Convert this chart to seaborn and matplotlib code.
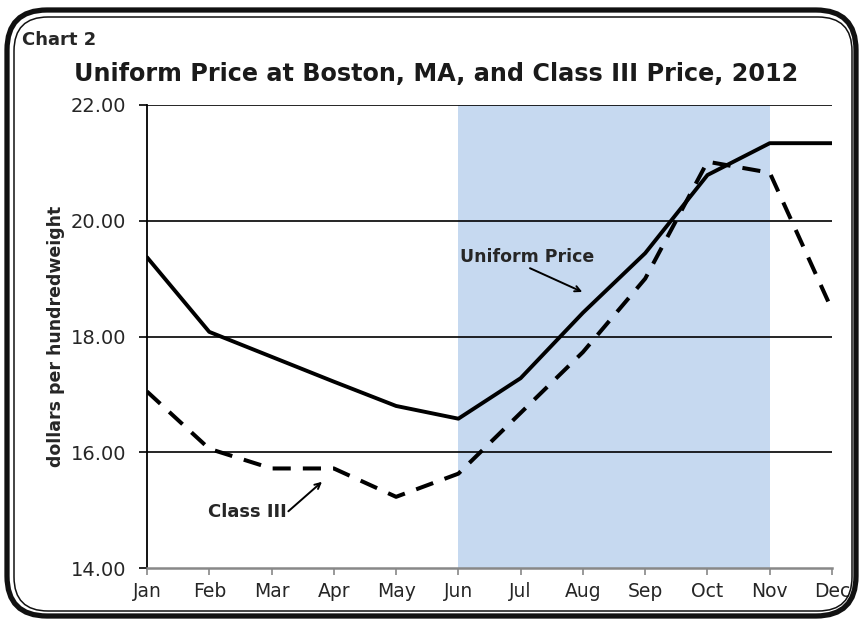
import pandas as pd
import matplotlib.pyplot as plt
import seaborn as sns
from matplotlib.patches import FancyBboxPatch

months = ['Jan', 'Feb', 'Mar', 'Apr', 'May', 'Jun', 'Jul', 'Aug', 'Sep', 'Oct', 'Nov', 'Dec']
uniform_price = [19.37, 18.08, 17.65, 17.22, 16.80, 16.58, 17.28, 18.41, 19.44, 20.79, 21.34, 21.34]
class_iii = [17.05, 16.06, 15.72, 15.72, 15.23, 15.63, 16.68, 17.73, 19.00, 21.02, 20.83, 18.46]
y_ticks = [14.0, 16.0, 18.0, 20.0, 22.0]
shade_from, shade_to = 'Jun', 'Nov'

df = pd.DataFrame({'month': months, 'pos': range(len(months)),
                   'Uniform Price': uniform_price, 'Class III': class_iii})

sns.set_style('white')
plt.rcParams['font.family'] = ['DejaVu Sans']

fig = plt.figure(figsize=(8.59, 6.22), dpi=100)
ax = fig.add_axes([0.1711, 0.0868, 0.7975, 0.7444])

ax.axvspan(months.index(shade_from), months.index(shade_to), color='#c6d9f0', zorder=0, lw=0)
for t in y_ticks[1:]:
    ax.axhline(t, color='black', lw=1.2, zorder=1)

sns.lineplot(data=df, x='pos', y='Uniform Price', color='black', lw=2.8, ax=ax, zorder=3)
sns.lineplot(data=df, x='pos', y='Class III', color='black', lw=2.9, ax=ax, zorder=3,
             dashes=False, linestyle=(0, (4.5, 3)))

ax.set_xlim(0, len(months) - 1)
ax.set_ylim(y_ticks[0], y_ticks[-1])
ax.set_xticks(range(len(months)))
ax.set_xticklabels(months)
ax.set_yticks(y_ticks)
ax.set_yticklabels([f'{t:.2f}' for t in y_ticks])
ax.tick_params(axis='x', labelsize=13.5, length=5, width=1.2, color='#888888', direction='out', pad=5, bottom=True)
ax.tick_params(axis='y', labelsize=14, length=6, width=1.2, color='black', direction='out', pad=9, left=True)
ax.set_xlabel('')
ax.set_ylabel('dollars per hundredweight', fontsize=12.5, fontweight='bold', labelpad=4)

for s in ['top', 'right']:
    ax.spines[s].set_visible(False)
ax.spines['left'].set_color('black')
ax.spines['left'].set_linewidth(1.3)
ax.spines['bottom'].set_color('#888888')
ax.spines['bottom'].set_linewidth(1.8)

# callouts: label text and its arrow
ax.text(6.10, 19.37, 'Uniform Price', ha='center', va='center', fontsize=12.5, fontweight='bold')
ax.annotate('', xy=(6.99, 18.77), xytext=(6.15, 19.18),
            arrowprops=dict(arrowstyle='->', color='black', lw=1.4, shrinkA=0, shrinkB=0))
ax.text(2.25, 14.97, 'Class III', ha='right', va='center', fontsize=13, fontweight='bold')
ax.annotate('', xy=(2.81, 15.49), xytext=(2.27, 14.98),
            arrowprops=dict(arrowstyle='->', color='black', lw=1.4, shrinkA=0, shrinkB=0))

fig.text(22 / 859, 1 - 40 / 622, 'Chart 2', fontsize=13, fontweight='bold', va='center', ha='left')
fig.text(0.508, 1 - 74 / 622, 'Uniform Price at Boston, MA, and Class III Price, 2012',
         fontsize=17.2, fontweight='bold', va='center', ha='center', color='#1a1a1a')

# rounded double frame, in pixels
outer = FancyBboxPatch((7 + 40, 6 + 40), 849 - 80, 606 - 80, boxstyle='round,pad=40',
                       transform=None, fill=False, lw=3.8, ec='#111111')
inner = FancyBboxPatch((14 + 34, 11 + 34), 838 - 68, 594 - 68, boxstyle='round,pad=34',
                       transform=None, fill=False, lw=1.1, ec='#111111')
fig.patches.extend([outer, inner])

plt.savefig('out.png', dpi=100)
